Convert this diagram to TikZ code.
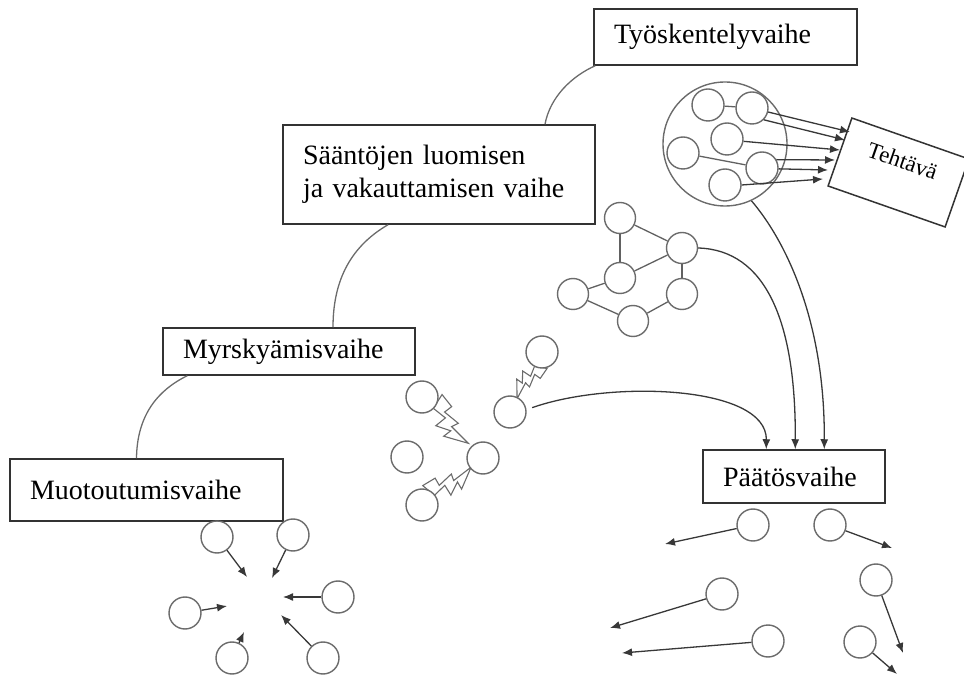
\documentclass[tikz,border=0pt]{standalone}
\usepackage{fontspec}
\setmainfont{Liberation Serif}
\usetikzlibrary{arrows.meta}
\newcommand\zigbolt[3]{%
  \draw[bolt, shift={#1}, rotate=#2, scale=#3, yscale=1.5]
    (0,-0.2) -- (0.29,-0.178) -- (0.267,-0.067) -- (0.6,-0.089) -- (0.556,0) -- (1,0)
    -- (0.578,0.156) -- (0.6,0.045) -- (0.333,0.133) -- (0.356,-0.022) -- (0.067,0) -- cycle;}
\begin{document}
\begin{tikzpicture}[x=0.5pt,y=-0.5pt,
  box/.style={draw=black!80, line width=0.75pt, fill=white, inner xsep=10pt, inner ysep=0pt,
    align=left, font=\fontsize{14}{16.5}\selectfont},
  ball/.style={circle, draw=black!58, line width=0.7pt, fill=white, minimum size=16pt, inner sep=0pt},
  nball/.style={ball, minimum size=15.5pt},
  link/.style={draw=black!62, line width=0.65pt},
  phase/.style={draw=black!58, line width=0.65pt},
  arr/.style={draw=black!78, line width=0.65pt, -{Latex[length=5pt,width=4pt]}},
  bolt/.style={draw=black!58, line width=0.55pt, fill=white, line join=miter}]
\useasboundingbox (0,0) rectangle (964,678);

% lightning bolts (drawn first, circles cover their wide ends)
\zigbolt{(536.2,362.9)}{-118.1}{40.6}
\zigbolt{(430.8,405.8)}{-45}{53}
\zigbolt{(431.8,497.4)}{37.6}{49.6}

% phase boxes
\node[box, minimum width=136.5pt, minimum height=31pt, text width=116.5pt] (muoto) at (146.5,490) {Muotoutumisvaihe};
\node[box, minimum width=126pt, minimum height=23.5pt, text width=106pt] (myrsky) at (289,351.5) {Myrskyämisvaihe};
\node[box, minimum width=156pt, minimum height=49.5pt, text width=136pt] (saanto) at (439,174.5) {Sääntöjen luomisen\\ja vakauttamisen vaihe};
\node[box, minimum width=131.5pt, minimum height=28pt, text width=111.5pt] (tyo) at (725.5,37) {Työskentelyvaihe};
\node[box, minimum width=91pt, minimum height=26.5pt, text width=71pt] (paatos) at (794,476.5) {Päätösvaihe};

% task box
\node[draw=black!80, line width=0.75pt, fill=white, rotate=-19.3, minimum width=62pt, minimum height=36pt,
  inner sep=0pt, font=\fontsize{11.5}{13}\selectfont, text height=0.7em, text depth=1.15em] (teht) at (898.5,172.5) {Tehtävä};

% arcs between phases
\draw[phase] ([xshift=-5pt]muoto.north) .. controls (137,415) and (158,390) .. ([xshift=12.5pt]myrsky.south west);
\draw[phase] ([xshift=22pt]myrsky.north) .. controls (333,284) and (348,248) .. ([xshift=-25.5pt]saanto.south);
\draw[phase] ([xshift=53pt]saanto.north) .. controls (550,97) and (572,76) .. ([xshift=1pt]tyo.south west);

% working group
\node[circle, draw=black!58, line width=0.7pt, minimum size=62pt, inner sep=0pt] (grp) at (725,144) {};
\node[ball] (c1) at (708,105) {};
\node[ball] (c2) at (752,108) {};
\node[ball] (c3) at (727,139) {};
\node[ball] (c4) at (683,153) {};
\node[ball] (c5) at (762,168) {};
\node[ball] (c6) at (725,185) {};
\draw[link] (c1) -- (c2);
\draw[link] (c4) -- (c5);
\coordinate (t1) at (850,132);
\coordinate (t2) at (845,140);
\coordinate (t3) at (840,150);
\coordinate (t4) at (835,160);
\coordinate (t5) at (828,170);
\coordinate (t6) at (823,179);
\draw[arr] (c2.-14) -- (t1);
\draw[arr] (c2.-45) -- (t2);
\draw[arr] (c3.-8) -- (t3);
\draw[arr] (c5.30) -- (t4);
\draw[arr] (c5.-3) -- (t5);
\draw[arr] (c6.east) -- (t6);

% norming network
\node[nball] (n1) at (620,218) {};
\node[nball] (n2) at (682,248) {};
\node[nball] (n3) at (620,278) {};
\node[nball] (n4) at (573,294) {};
\node[nball] (n5) at (682,294) {};
\node[nball] (n6) at (633,321) {};
\draw[link] (n1) -- (n3);
\draw[link] (n1) -- (n2);
\draw[link] (n3) -- (n2);
\draw[link] (n3) -- (n4);
\draw[link] (n4) -- (n6);
\draw[link] (n6) -- (n5);
\draw[link] (n5) -- (n2);

% storming
\node[ball] (L1) at (542,352) {};
\node[ball] (L2) at (510,412) {};
\node[ball] (L3) at (422,397) {};
\node[ball] (L4) at (407,457) {};
\node[ball] (L5) at (483,458) {};
\node[ball] (L6) at (422,505) {};

% arrows into decision phase
\draw[arr, shorten <=3pt] (L2.8) .. controls (610,380) and (767,385) .. ([xshift=32pt]paatos.north west);
\draw[arr] (n2.east) .. controls (765,250) and (796,320) .. ([xshift=46.5pt]paatos.north west);
\draw[arr] (grp.-65) .. controls (785,240) and (825,320) .. ([xshift=61pt]paatos.north west);

% forming
\node[ball] (A1) at (217,537) {};
\node[ball] (A2) at (293,535) {};
\node[ball] (A3) at (185,613) {};
\node[ball] (A4) at (338,597) {};
\node[ball] (A5) at (232,658) {};
\node[ball] (A6) at (323,658) {};
\coordinate (ta1) at (247,577);
\coordinate (ta2) at (272,578);
\coordinate (ta3) at (227,606);
\coordinate (ta4) at (283,597);
\coordinate (ta5) at (244,632);
\coordinate (ta6) at (281,615);
\draw[arr] (A1) -- (ta1);
\draw[arr] (A2) -- (ta2);
\draw[arr] (A3) -- (ta3);
\draw[arr] (A4) -- (ta4);
\draw[arr] (A5) -- (ta5);
\draw[arr] (A6) -- (ta6);

% adjourning
\node[ball] (B1) at (753,525) {};
\node[ball] (B2) at (830,525) {};
\node[ball] (B3) at (876,580) {};
\node[ball] (B4) at (722,594) {};
\node[ball] (B5) at (768,641) {};
\node[ball] (B6) at (860,642) {};
\coordinate (tb1) at (665,544);
\coordinate (tb2) at (892,548);
\coordinate (tb3) at (903,653);
\coordinate (tb4) at (610,628);
\coordinate (tb5) at (622,653);
\coordinate (tb6) at (897,674);
\draw[arr] (B1) -- (tb1);
\draw[arr] (B2) -- (tb2);
\draw[arr] (B3) -- (tb3);
\draw[arr] (B4) -- (tb4);
\draw[arr] (B5) -- (tb5);
\draw[arr] (B6) -- (tb6);
\end{tikzpicture}
\end{document}
